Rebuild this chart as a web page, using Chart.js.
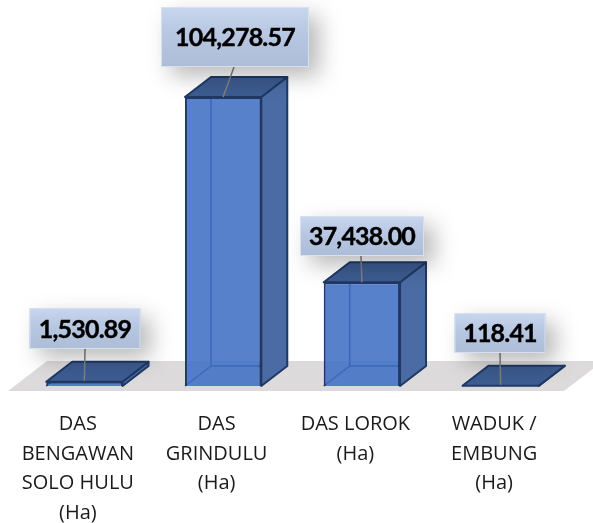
<!DOCTYPE html>
<html><head><meta charset="utf-8">
<style>html,body{margin:0;padding:0;background:#fff}#w{width:593px;height:523px;position:relative}</style>
<script src="https://cdn.jsdelivr.net/npm/chart.js@4"></script></head>
<body><div id="w"><canvas id="c" width="593" height="523"></canvas></div>
<script>
const categories = [
  ["DAS","BENGAWAN","SOLO HULU","(Ha)"],
  ["DAS","GRINDULU","(Ha)"],
  ["DAS LOROK","(Ha)"],
  ["WADUK /","EMBUNG","(Ha)"]
];
const values = [1530.89, 104278.57, 37438.00, 118.41];
const valueText = ["1,530.89","104,278.57","37,438.00","118.41"];

const DX = 26, DY = -20;
const CALLOUTS = [
  {cx:85,  top:308, w:111, h:41, ax:85,  ay:349},
  {cx:235, top:7,   w:148, h:60, ax:234, ay:67},
  {cx:362, top:216, w:124, h:40, ax:361, ay:256},
  {cx:500, top:313, w:91,  h:40, ax:500, ay:353}
];
function poly(ctx, pts, fill, stroke, lw){
  ctx.beginPath();
  pts.forEach((p,i)=> i?ctx.lineTo(p[0],p[1]):ctx.moveTo(p[0],p[1]));
  ctx.closePath();
  if(fill){ctx.fillStyle=fill;ctx.fill();}
  if(stroke){ctx.strokeStyle=stroke;ctx.lineWidth=lw||2;ctx.lineJoin='round';ctx.stroke();}
}
const box3d = {
  id:'box3d',
  beforeDatasetsDraw(chart){
    const {ctx} = chart, y0 = chart.scales.y.getPixelForValue(0);
    ctx.save();
    poly(ctx,[[8,y0+5],[564,y0+5],[603,y0-25],[47,y0-25]],'#dcdada');
    chart.getDatasetMeta(0).data.forEach(b=>{
      const l=b.x-b.width/2, r=b.x+b.width/2, t=b.y, base=b.base;
      ctx.strokeStyle='#1f3864';ctx.lineWidth=1.5;
      ctx.beginPath();
      ctx.moveTo(l+DX,t+DY);ctx.lineTo(l+DX,base+DY);ctx.lineTo(r+DX,base+DY);
      ctx.moveTo(l+DX,base+DY);ctx.lineTo(l,base);
      ctx.stroke();
      poly(ctx,[[r,t],[r+DX,t+DY],[r+DX,base+DY],[r,base]],'#4a6ba3','#1f3864',2);
      poly(ctx,[[l,t],[l+DX,t+DY],[r+DX,t+DY],[r,t]],'#3c5b8f','#1f3864',2);
    });
    ctx.restore();
  },
  afterDatasetsDraw(chart){
    const {ctx} = chart;
    ctx.save();
    chart.getDatasetMeta(0).data.forEach((b,i)=>{
      const c=CALLOUTS[i], x=c.cx-c.w/2;
      ctx.strokeStyle='#7f7f7f';ctx.lineWidth=1.5;
      ctx.beginPath();ctx.moveTo(c.ax,c.ay);ctx.lineTo(b.x,b.base-b.y<8?b.y-1:b.y);ctx.stroke();
      ctx.save();
      ctx.shadowColor='rgba(0,0,0,.28)';ctx.shadowBlur=22;ctx.shadowOffsetX=10;ctx.shadowOffsetY=9;
      const g=ctx.createLinearGradient(0,c.top,0,c.top+c.h);
      g.addColorStop(0,'#c8d6ee');g.addColorStop(.5,'#b6c5e0');g.addColorStop(1,'#adbcd7');
      ctx.fillStyle=g;ctx.fillRect(x,c.top,c.w,c.h);
      ctx.restore();
      ctx.strokeStyle='#d6e0f1';ctx.lineWidth=1;ctx.strokeRect(x+.5,c.top+.5,c.w-1,c.h-1);
      ctx.fillStyle='#000';ctx.font='bold 25px Lato';ctx.letterSpacing='-0.8px';ctx.textAlign='center';ctx.textBaseline='middle';
      ctx.strokeStyle='#000';ctx.lineWidth=.4;
      ctx.fillText(valueText[i],c.cx,c.top+c.h/2+1);
      ctx.strokeText(valueText[i],c.cx,c.top+c.h/2+1);
      ctx.letterSpacing='0px';
    });
    ctx.restore();
  }
};
new Chart(document.getElementById('c'),{
  type:'bar',
  data:{labels:categories,datasets:[{data:values,backgroundColor:'rgba(64,112,196,.88)',borderColor:'#1f3864',borderWidth:2,barPercentage:.55,categoryPercentage:1}]},
  plugins:[box3d],
  options:{
    responsive:false,animation:false,
    layout:{padding:{left:15,right:23,top:0,bottom:0}},
    plugins:{legend:{display:false},tooltip:{enabled:false}},
    scales:{
      y:{display:false,min:0,max:139300},
      x:{grid:{display:false},border:{display:false},
         afterFit(s){s.height=137;},
         ticks:{autoSkip:false,maxRotation:0,padding:16,labelOffset:-6.5,color:'#1a1a1a',font:{family:'"Open Sans"',size:20,lineHeight:1.475}}}
    }
  }
});
</script></body></html>
